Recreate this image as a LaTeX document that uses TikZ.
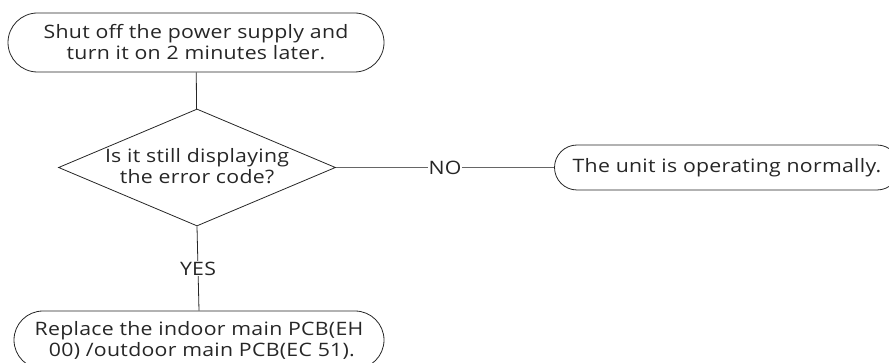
\documentclass[tikz,border=0pt]{standalone}
\usepackage{fontspec}
\setmainfont{Open Sans}[FakeStretch=1.15, LetterSpace=1.5]
\usetikzlibrary{shapes.misc,shapes.geometric}
\begin{document}
\begin{tikzpicture}[x=1pt,y=-1pt,
  every node/.style={font=\fontsize{18.5}{21}\selectfont, text=black!85},
  term/.style={draw=black!85, line width=0.8pt, rounded rectangle, inner sep=0pt, align=center},
  decide/.style={draw=black!85, line width=0.8pt, diamond, inner sep=0pt, align=center, minimum width=277pt, minimum height=117pt},
  link/.style={draw=black!85, line width=0.8pt},
  lab/.style={fill=white, inner sep=1pt}]
\useasboundingbox (0,0) rectangle (889,363);
\clip (0,0) rectangle (889,363);
\node[term, minimum width=376pt, minimum height=59pt] (start) at (196,42.5) {Shut off the power supply and\\turn it on 2 minutes later.};
\node[decide] (dia) at (197,167.5) {};
\node[align=center] (q) at (197,166) {Is it still displaying\\the error code?};
\node[term, minimum width=345pt, minimum height=45pt] (ok) at (727,167.5) {The unit is operating normally.};
\node[term, minimum width=370pt, minimum height=58pt] (rep) at (199,340) {Replace the indoor main PCB(EH\\\ 00) /outdoor main PCB(EC 51).};
\draw[link] (start) -- (dia);
\draw[link, draw=black!60] (dia.east) -- node[lab] {NO} (ok.west);
\draw[link] (dia.south) -- node[lab] {YES} (rep.north);
\end{tikzpicture}
\end{document}
